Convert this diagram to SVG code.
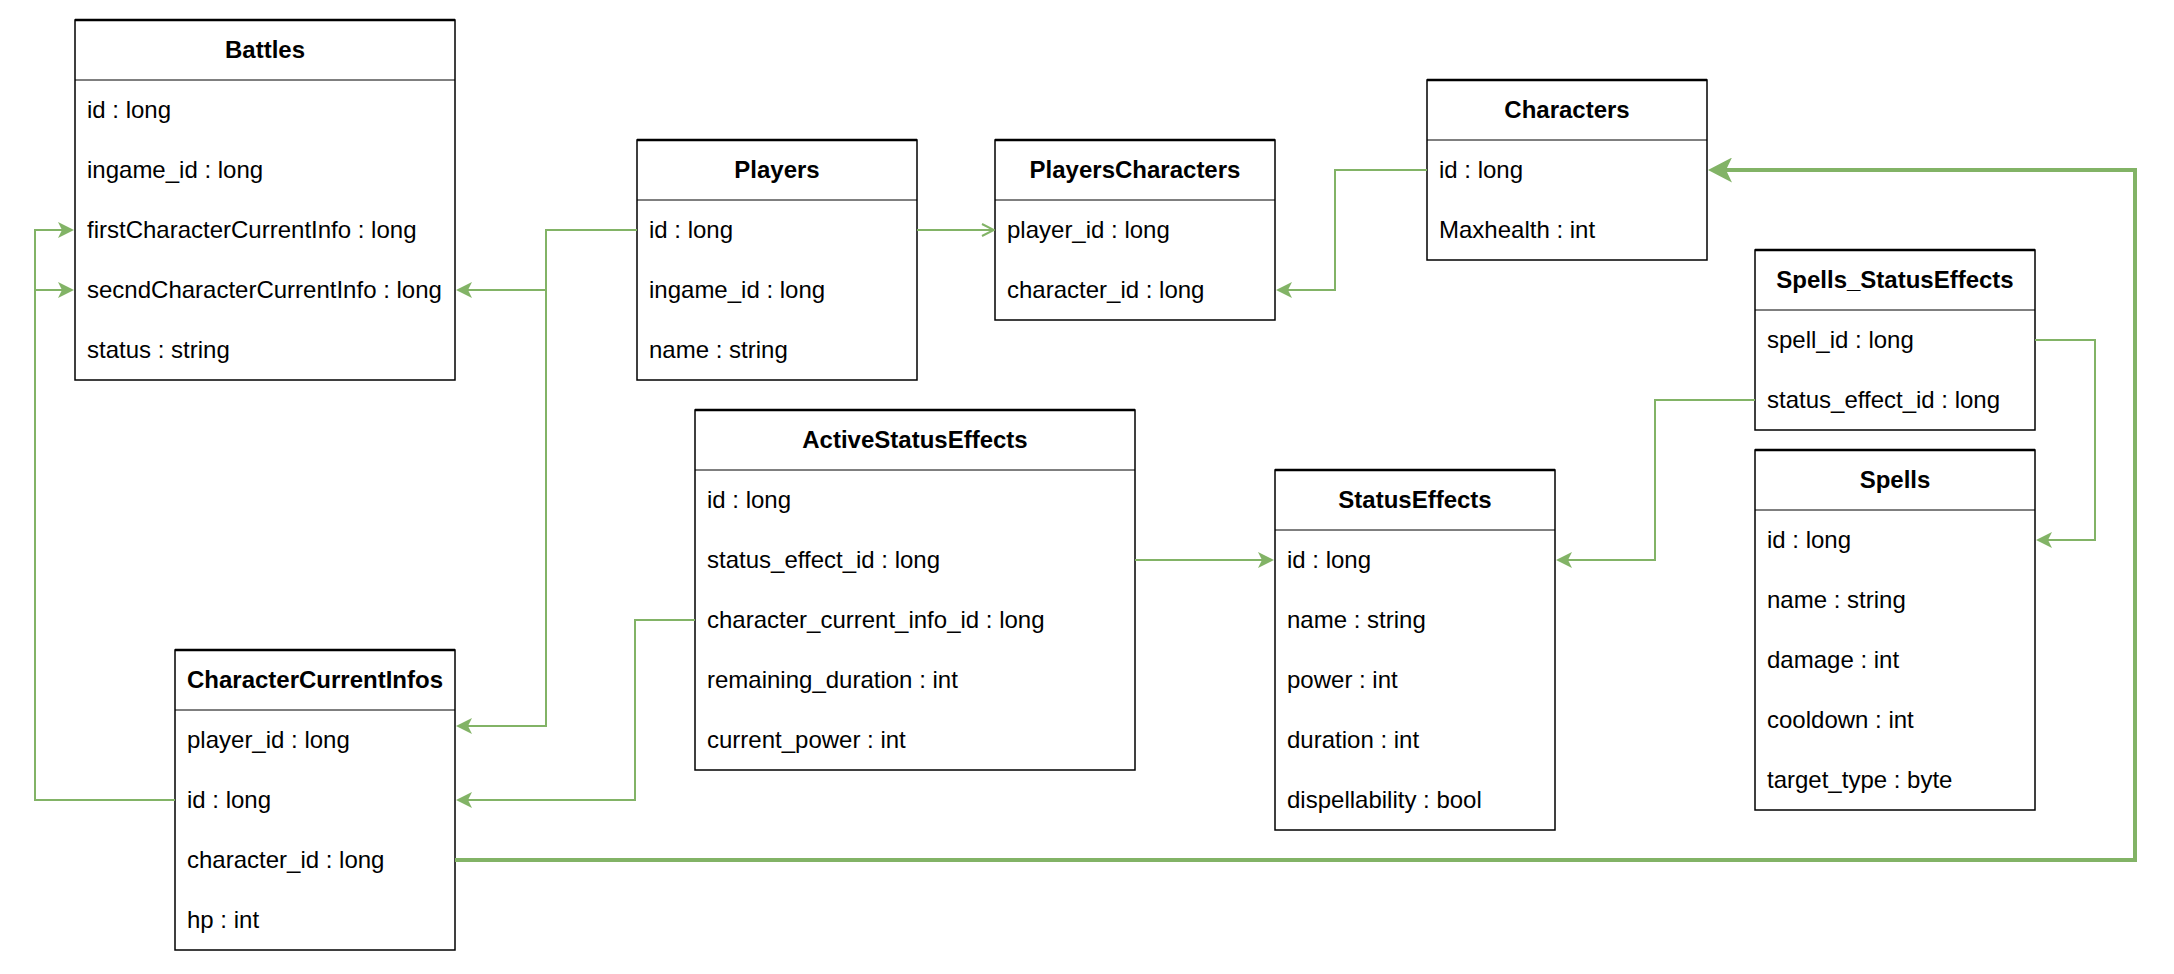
<svg xmlns="http://www.w3.org/2000/svg" width="2174" height="974" viewBox="0 0 2174 974">
<style>
.box{fill:#fff;stroke:#000;stroke-width:1.5}
.top{stroke:#000;stroke-width:2.5}
.sep{stroke:#000;stroke-width:1}
.t{font-family:"Liberation Sans",Arial,sans-serif;font-size:24px;fill:#000}
.h{font-family:"Liberation Sans",Arial,sans-serif;font-size:24px;font-weight:bold;fill:#000;text-anchor:middle}
.c{fill:none;stroke:#82b366;stroke-width:2;marker-end:url(#cls)}
.ck{fill:none;stroke:#82b366;stroke-width:4;marker-end:url(#clsk)}
.co{fill:none;stroke:#82b366;stroke-width:2;marker-end:url(#opn)}
</style>
<defs>
<marker id="cls" viewBox="0 0 16 16" refX="4" refY="8" markerWidth="16" markerHeight="16" markerUnits="userSpaceOnUse" orient="auto">
<path d="M16,8 L0,0 L4,8 L0,16 Z" fill="#82b366"/>
</marker>
<marker id="clsk" viewBox="0 0 24 25" refX="6" refY="12.5" markerWidth="24" markerHeight="25" markerUnits="userSpaceOnUse" orient="auto">
<path d="M24,12.5 L0,0 L6,12.5 L0,25 Z" fill="#82b366"/>
</marker>
<marker id="opn" viewBox="0 0 14 14" refX="13" refY="7" markerWidth="14" markerHeight="14" markerUnits="userSpaceOnUse" orient="auto">
<polyline points="1,1 13,7 1,13" fill="none" stroke="#82b366" stroke-width="2"/>
</marker>
</defs>

<g id="Battles">
<rect class="box" x="75" y="20" width="380" height="360"/>
<line class="top" x1="75" y1="20" x2="455" y2="20"/>
<line class="sep" x1="75" y1="80" x2="455" y2="80"/>
<text class="h" x="265" y="58">Battles</text>
<text class="t" x="87" y="118">id : long</text>
<text class="t" x="87" y="178">ingame_id : long</text>
<text class="t" x="87" y="238">firstCharacterCurrentInfo : long</text>
<text class="t" x="87" y="298">secndCharacterCurrentInfo : long</text>
<text class="t" x="87" y="358">status : string</text>
</g>

<g id="Players">
<rect class="box" x="637" y="140" width="280" height="240"/>
<line class="top" x1="637" y1="140" x2="917" y2="140"/>
<line class="sep" x1="637" y1="200" x2="917" y2="200"/>
<text class="h" x="777" y="178">Players</text>
<text class="t" x="649" y="238">id : long</text>
<text class="t" x="649" y="298">ingame_id : long</text>
<text class="t" x="649" y="358">name : string</text>
</g>

<g id="PlayersCharacters">
<rect class="box" x="995" y="140" width="280" height="180"/>
<line class="top" x1="995" y1="140" x2="1275" y2="140"/>
<line class="sep" x1="995" y1="200" x2="1275" y2="200"/>
<text class="h" x="1135" y="178">PlayersCharacters</text>
<text class="t" x="1007" y="238">player_id : long</text>
<text class="t" x="1007" y="298">character_id : long</text>
</g>

<g id="Characters">
<rect class="box" x="1427" y="80" width="280" height="180"/>
<line class="top" x1="1427" y1="80" x2="1707" y2="80"/>
<line class="sep" x1="1427" y1="140" x2="1707" y2="140"/>
<text class="h" x="1567" y="118">Characters</text>
<text class="t" x="1439" y="178">id : long</text>
<text class="t" x="1439" y="238">Maxhealth : int</text>
</g>

<g id="Spells_StatusEffects">
<rect class="box" x="1755" y="250" width="280" height="180"/>
<line class="top" x1="1755" y1="250" x2="2035" y2="250"/>
<line class="sep" x1="1755" y1="310" x2="2035" y2="310"/>
<text class="h" x="1895" y="288">Spells_StatusEffects</text>
<text class="t" x="1767" y="348">spell_id : long</text>
<text class="t" x="1767" y="408">status_effect_id : long</text>
</g>

<g id="Spells">
<rect class="box" x="1755" y="450" width="280" height="360"/>
<line class="top" x1="1755" y1="450" x2="2035" y2="450"/>
<line class="sep" x1="1755" y1="510" x2="2035" y2="510"/>
<text class="h" x="1895" y="488">Spells</text>
<text class="t" x="1767" y="548">id : long</text>
<text class="t" x="1767" y="608">name : string</text>
<text class="t" x="1767" y="668">damage : int</text>
<text class="t" x="1767" y="728">cooldown : int</text>
<text class="t" x="1767" y="788">target_type : byte</text>
</g>

<g id="ActiveStatusEffects">
<rect class="box" x="695" y="410" width="440" height="360"/>
<line class="top" x1="695" y1="410" x2="1135" y2="410"/>
<line class="sep" x1="695" y1="470" x2="1135" y2="470"/>
<text class="h" x="915" y="448">ActiveStatusEffects</text>
<text class="t" x="707" y="508">id : long</text>
<text class="t" x="707" y="568">status_effect_id : long</text>
<text class="t" x="707" y="628">character_current_info_id : long</text>
<text class="t" x="707" y="688">remaining_duration : int</text>
<text class="t" x="707" y="748">current_power : int</text>
</g>

<g id="StatusEffects">
<rect class="box" x="1275" y="470" width="280" height="360"/>
<line class="top" x1="1275" y1="470" x2="1555" y2="470"/>
<line class="sep" x1="1275" y1="530" x2="1555" y2="530"/>
<text class="h" x="1415" y="508">StatusEffects</text>
<text class="t" x="1287" y="568">id : long</text>
<text class="t" x="1287" y="628">name : string</text>
<text class="t" x="1287" y="688">power : int</text>
<text class="t" x="1287" y="748">duration : int</text>
<text class="t" x="1287" y="808">dispellability : bool</text>
</g>

<g id="CharacterCurrentInfos">
<rect class="box" x="175" y="650" width="280" height="300"/>
<line class="top" x1="175" y1="650" x2="455" y2="650"/>
<line class="sep" x1="175" y1="710" x2="455" y2="710"/>
<text class="h" x="315" y="688">CharacterCurrentInfos</text>
<text class="t" x="187" y="748">player_id : long</text>
<text class="t" x="187" y="808">id : long</text>
<text class="t" x="187" y="868">character_id : long</text>
<text class="t" x="187" y="928">hp : int</text>
</g>

<g id="connectors">
<path class="c" d="M175,800 H35 V230 H62"/>
<path class="c" d="M175,800 H35 V290 H62"/>
<path class="c" d="M637,230 H546 V290 H468"/>
<path class="c" d="M637,230 H546 V726 H468"/>
<path class="co" d="M917,230 H994"/>
<path class="c" d="M1427,170 H1335 V290 H1288"/>
<path class="c" d="M1135,560 H1262"/>
<path class="c" d="M695,620 H635 V800 H468"/>
<path class="c" d="M1755,400 H1655 V560 H1568"/>
<path class="c" d="M2035,340 H2095 V540 H2048"/>
<path class="ck" d="M455,860 H2135 V170 H1726"/>
</g>
</svg>
